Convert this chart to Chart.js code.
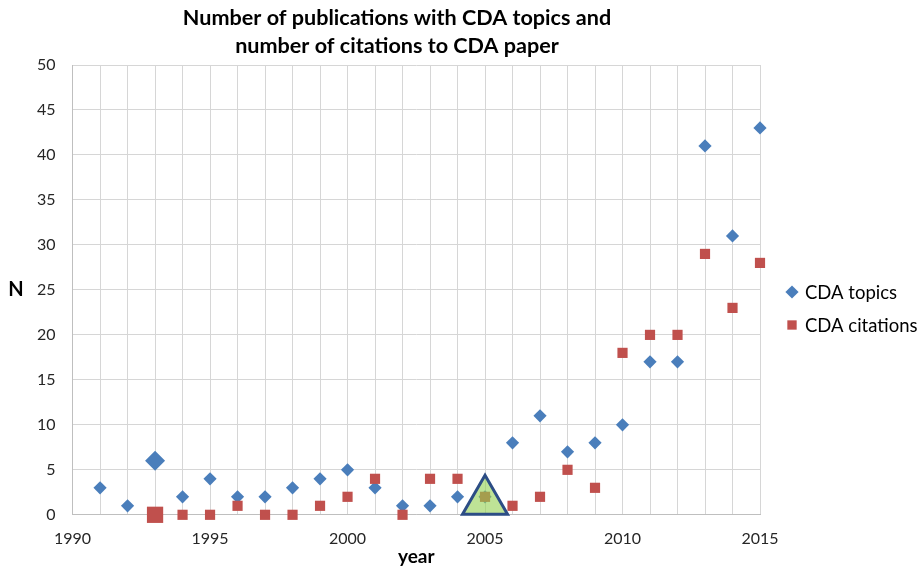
<!DOCTYPE html>
<html>
<head>
<meta charset="utf-8">
<title>CDA publications and citations</title>
<script src="https://cdn.jsdelivr.net/npm/chart.js@4/dist/chart.umd.min.js"></script>
<style>
  html, body { margin: 0; padding: 0; background: #fff; }
  #wrap { width: 924px; height: 571px; position: relative; }
</style>
</head>
<body>
<div id="wrap"><canvas id="cdaChart"></canvas></div>
<script>
// ---- data ----
const years      = [1991, 1992, 1993, 1994, 1995, 1996, 1997, 1998, 1999, 2000, 2001, 2002, 2003,
                    2004, 2005, 2006, 2007, 2008, 2009, 2010, 2011, 2012, 2013, 2014, 2015];
const topics     = [3, 1, 6, 2, 4, 2, 2, 3, 4, 5, 3, 1, 1, 2, 2, 8, 11, 7, 8, 10, 17, 17, 41, 31, 43];
const citeYears  = [1993, 1994, 1995, 1996, 1997, 1998, 1999, 2000, 2001, 2002, 2003, 2004, 2005,
                    2006, 2007, 2008, 2009, 2010, 2011, 2012, 2013, 2014, 2015];
const citations  = [0, 0, 0, 1, 0, 0, 1, 2, 4, 0, 4, 4, 2, 1, 2, 5, 3, 18, 20, 20, 29, 23, 28];
const markYear   = [2005];      // highlighted year (triangle)
const markValue  = [1.5];
const bigYear    = 1993;        // year drawn with enlarged markers
const titleLines = ['Number of publications with CDA topics and', 'number of citations to CDA paper'];
const seriesNames = ['CDA topics', 'CDA citations'];
const xTitle = 'year';
const yTitle = 'N';

const BLUE = '#4a7ebb';
const RED  = '#c0504d';
const FONT = 'Lato, "Liberation Sans", sans-serif';

function toPoints(xs, ys) {
  return xs.map(function (x, i) { return { x: x, y: ys[i] }; });
}

// titles and the legend drawn straight on the canvas
const textPlugin = {
  id: 'textPlugin',
  afterDraw: function (chart) {
    const c = chart.ctx;
    const area = chart.chartArea;
    c.save();
    c.fillStyle = '#000';
    c.textAlign = 'center';
    c.textBaseline = 'middle';
    c.font = 'bold 21.6px ' + FONT;
    c.fillText(titleLines[0], 397, 18);
    c.fillText(titleLines[1], 397, 46);
    c.font = 'bold 20px ' + FONT;
    c.fillText(yTitle, 16, 290);
    c.font = 'bold 19px ' + FONT;
    c.fillText(xTitle, (area.left + area.right) / 2, 557);

    // legend
    c.textAlign = 'left';
    c.font = '18.5px ' + FONT;
    seriesNames.forEach(function (name, i) {
      const ds = chart.data.datasets[i];
      const y = 292 + i * 33;
      c.fillStyle = ds.backgroundColor;
      Chart.helpers.drawPoint(c, { pointStyle: ds.pointStyle, radius: 6.6, rotation: 0, borderWidth: 0 }, 792, y);
      c.fillStyle = '#000';
      c.fillText(name, 805, y + 1);
    });
    c.restore();
  }
};

const chart = new Chart(document.getElementById('cdaChart'), {
  type: 'scatter',
  data: {
    datasets: [
      {
        label: seriesNames[0],
        data: toPoints(years, topics),
        pointStyle: 'rectRot',
        backgroundColor: BLUE,
        borderColor: BLUE,
        borderWidth: 0,
        clip: false,
        pointRadius: function (ctx) { return ctx.raw && ctx.raw.x === bigYear ? 10 : 6.6; },
        order: 3
      },
      {
        label: seriesNames[1],
        data: toPoints(citeYears, citations),
        pointStyle: 'rect',
        backgroundColor: RED,
        borderColor: RED,
        borderWidth: 0,
        clip: false,
        pointRadius: function (ctx) { return ctx.raw && ctx.raw.x === bigYear ? 11.5 : 7.2; },
        order: 2
      },
      {
        label: 'highlight',
        data: toPoints(markYear, markValue),
        pointStyle: 'triangle',
        backgroundColor: 'rgba(146, 208, 80, 0.6)',
        borderColor: '#2c4d85',
        borderWidth: 3,
        clip: false,
        pointRadius: 26,
        order: 1
      }
    ]
  },
  options: {
    responsive: true,
    maintainAspectRatio: false,
    animation: false,
    events: [],
    layout: {
      padding: { top: 65, left: 20, right: 164, bottom: 9 }
    },
    plugins: {
      title: { display: false },
      tooltip: { enabled: false },
      legend: { display: false }
    },
    scales: {
      x: {
        type: 'linear',
        min: 1990,
        max: 2015,
        ticks: {
          stepSize: 1,
          autoSkip: false,
          maxRotation: 0,
          padding: 14,
          color: '#262626',
          font: { size: 16, family: FONT },
          callback: function (v) { return v % 5 === 0 ? String(v) : ''; }
        },
        grid: { color: '#d6d6d6', lineWidth: 1, drawTicks: false },
        border: { color: '#bfbfbf' }
      },
      y: {
        min: 0,
        max: 50,
        ticks: {
          stepSize: 5,
          padding: 17,
          color: '#262626',
          font: { size: 16, family: FONT }
        },
        grid: { color: '#d6d6d6', lineWidth: 1, drawTicks: false },
        border: { color: '#bfbfbf' }
      }
    }
  },
  plugins: [textPlugin]
});
</script>
</body>
</html>
